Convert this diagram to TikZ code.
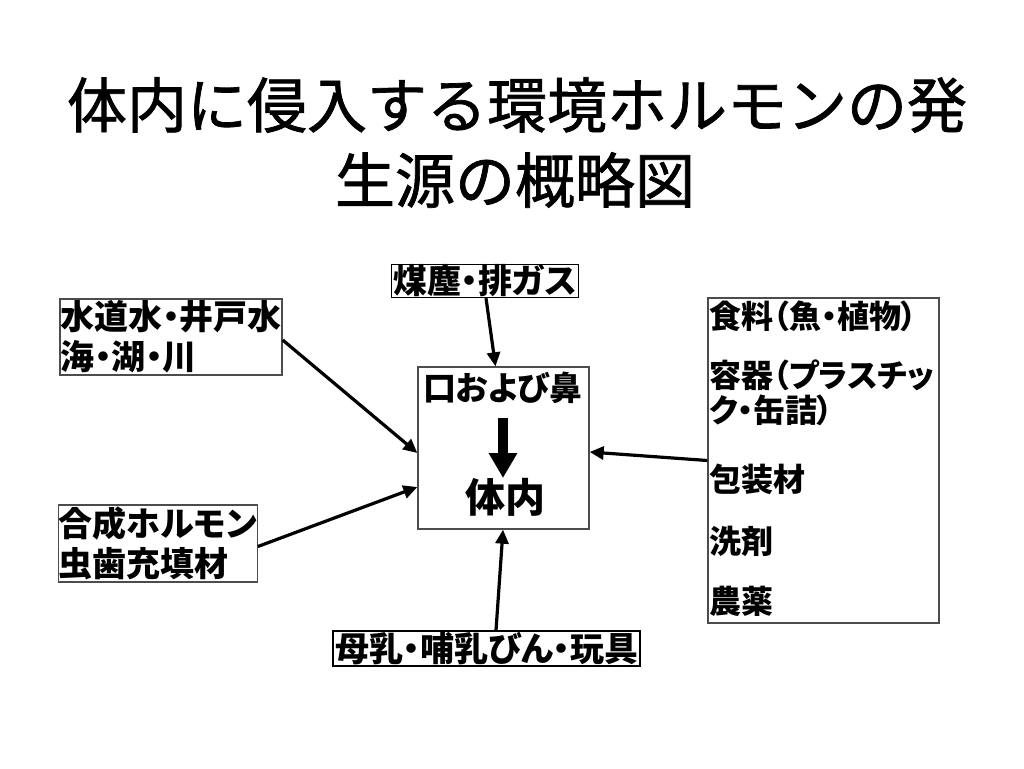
\documentclass[tikz,border=0pt]{standalone}
\usepackage{fontspec}
\setmainfont{Noto Sans CJK JP}
\newfontfamily\boxfont[RawFeature=+palt]{Noto Sans CJK JP}
\newfontfamily\ttlfont[FakeBold=1.2]{Noto Sans CJK JP}
\usetikzlibrary{arrows.meta}
\tikzset{
  boxA/.style={draw=black, line width=1.3pt, inner sep=0pt, align=left,
    font=\boxfont\bfseries\fontsize{34}{40}\selectfont},
  boxB/.style={draw=black!70, line width=1.3pt, inner sep=0pt, align=left,
    font=\boxfont\bfseries\fontsize{34}{40}\selectfont},
  ftext/.style={inner sep=0pt, anchor=west, font=\boxfont\bfseries\fontsize{32}{34}\selectfont},
  conn/.style={line width=3.2pt, -{Triangle[length=14pt,width=13pt]}, shorten >=0pt},
  bigarrow/.style={line width=10pt, -{Triangle[length=25pt,width=27pt]}},
  titlefont/.style={inner sep=0pt, font=\ttlfont\fontsize{60}{75}\selectfont}
}
\begin{document}
\begin{tikzpicture}[x=1pt,y=-1pt]
\useasboundingbox[fill=white] (0,0) rectangle (1024,768);
% title
\node[titlefont] (t1) at (517,105) {体内に侵入する環境ホルモンの発};
\node[titlefont] (t2) at (515,180) {生源の概略図};
% boxes
\node[boxA, minimum width=187pt, minimum height=33pt] (soot) at (485,281) {煤塵・排ガス};
\node[boxB, minimum width=222pt, minimum height=76pt] (water) at (171,337) {水道水・井戸水\\海・湖・川};
\node[boxB, minimum width=196pt, minimum height=77pt] (synth) at (158,543.5) {合成ホルモン\\虫歯充填材};
\node[boxB, minimum width=171pt, minimum height=162pt] (center) at (503.5,448) {};
\node[boxB, minimum width=231pt, minimum height=325pt] (food) at (823.5,460.5) {};
\node[boxA, minimum width=307pt, minimum height=35pt] (milk) at (486.5,648.5) {母乳・哺乳びん・玩具};
% center contents
\node[inner sep=0pt, font=\boxfont\bfseries\fontsize{33}{36}\selectfont] (mouth) at (503,388) {口および鼻};
\node[inner sep=0pt, font=\boxfont\bfseries\fontsize{40}{44}\selectfont] (body) at (505,497) {体内};
\coordinate (a1) at (503,418);
\coordinate (a2) at (503,478);
\draw[bigarrow] (a1) -- (a2);
% food contents
\node[ftext] (f1) at (709,316) {食料（魚・植物）};
\node[ftext] (f2) at (709,375) {容器（プラスチッ};
\node[ftext] (f3) at (709,410) {ク・缶詰）};
\node[ftext] (f4) at (709,479) {包装材};
\node[ftext] (f5) at (709,541) {洗剤};
\node[ftext] (f6) at (709,601) {農薬};
% connectors
\draw[conn] ([xshift=1pt]soot.south) -- ([xshift=-8pt]center.north);
\draw[conn] ([yshift=-3pt]water.east) -- ([yshift=-5pt]center.west);
\draw[conn] ([yshift=-3pt]synth.east) -- ([yshift=-39pt]center.west);
\draw[conn] (food.west) -- ([yshift=-4pt]center.east);
\draw[conn] ([xshift=9.5pt]milk.north) -- ([xshift=-0.5pt]center.south);
\end{tikzpicture}
\end{document}
